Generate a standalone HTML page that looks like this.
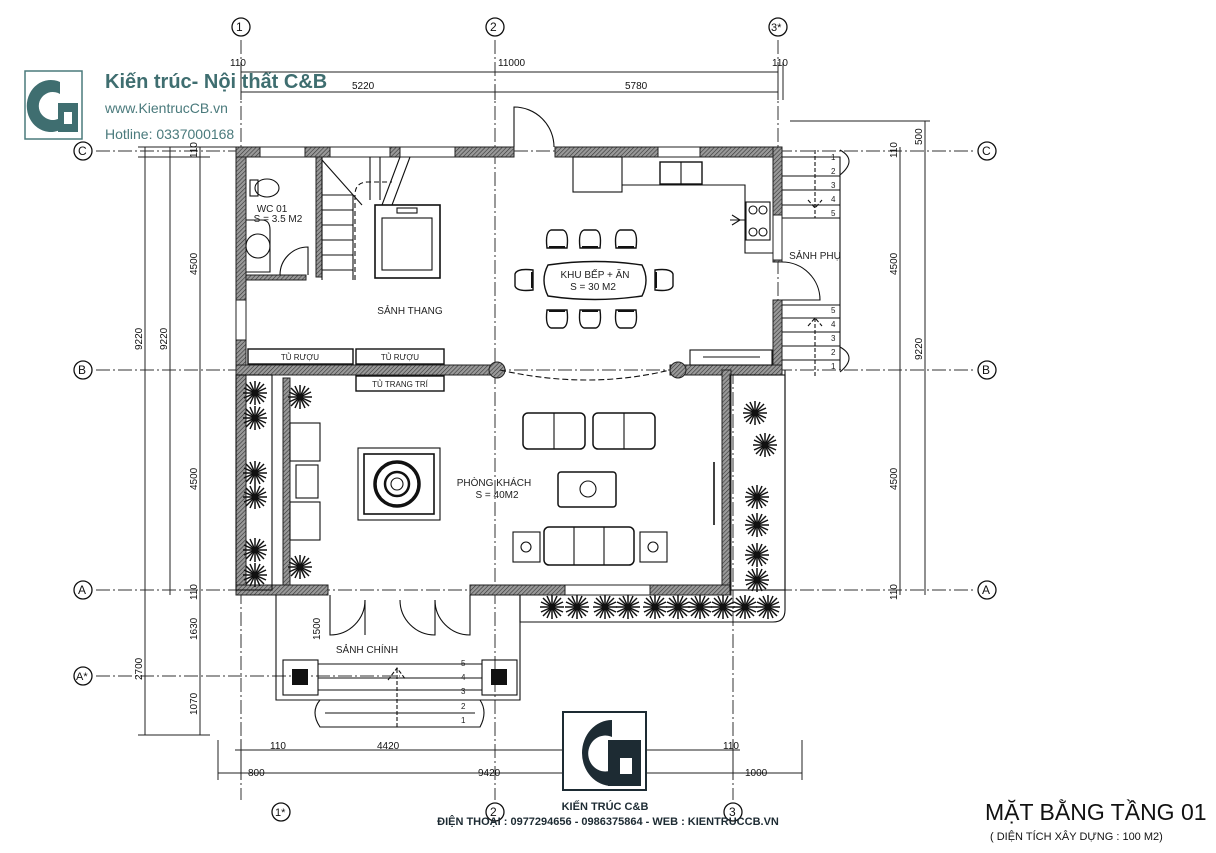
<!DOCTYPE html>
<html><head><meta charset="utf-8"><style>
html,body{margin:0;padding:0;background:#fff;}
svg{display:block;font-family:"Liberation Sans",sans-serif;}
</style></head><body>
<svg width="1216" height="853" viewBox="0 0 1216 853" xmlns="http://www.w3.org/2000/svg">
<defs>
<pattern id="h" width="3" height="3" patternUnits="userSpaceOnUse" patternTransform="rotate(45)">
<rect width="3" height="3" fill="#999"/><line x1="0" y1="0" x2="0" y2="3" stroke="#333" stroke-width="1.2"/></pattern>
<g id="plant"><g stroke="#111" stroke-width="1.5">
<line x1="-12" y1="0" x2="12" y2="0"/><line x1="0" y1="-12" x2="0" y2="12"/><line x1="-9" y1="-9" x2="9" y2="9"/><line x1="-9" y1="9" x2="9" y2="-9"/>
<line x1="-11" y1="-5" x2="11" y2="5"/><line x1="-11" y1="5" x2="11" y2="-5"/><line x1="-5" y1="-11" x2="5" y2="11"/><line x1="5" y1="-11" x2="-5" y2="11"/></g><circle r="3" fill="#111"/></g>
<g id="chair"><path d="M-10,8 Q-12,-8 -6,-10 L6,-10 Q12,-8 10,8 Z" fill="none" stroke="#111" stroke-width="1.4"/><path d="M-8,7 L8,7" stroke="#111" stroke-width="2"/></g>
</defs>
<g fill="none" stroke="#222" stroke-width="1">
<g stroke-dasharray="14,3,2,3" stroke="#333">
<line x1="241" y1="40" x2="241" y2="800"/><line x1="495" y1="40" x2="495" y2="800"/><line x1="778" y1="40" x2="778" y2="370"/><line x1="733" y1="370" x2="733" y2="800"/>
<line x1="96" y1="151" x2="975" y2="151"/><line x1="96" y1="370" x2="975" y2="370"/><line x1="96" y1="590" x2="975" y2="590"/><line x1="96" y1="676" x2="400" y2="676"/>
</g>
<g stroke="#111" stroke-width="1.3">
<circle cx="241" cy="27" r="9"/><circle cx="495" cy="27" r="9"/><circle cx="778" cy="27" r="9"/>
<circle cx="83" cy="151" r="9"/><circle cx="83" cy="370" r="9"/><circle cx="83" cy="590" r="9"/><circle cx="83" cy="676" r="9"/>
<circle cx="987" cy="151" r="9"/><circle cx="987" cy="370" r="9"/><circle cx="987" cy="590" r="9"/>
<circle cx="281" cy="812" r="9"/><circle cx="495" cy="812" r="9"/><circle cx="733" cy="812" r="9"/>
</g>
<line x1="241" y1="72" x2="778" y2="72"/><line x1="241" y1="92" x2="778" y2="92"/>
<line x1="241" y1="62" x2="241" y2="100"/><line x1="495" y1="85" x2="495" y2="100"/><line x1="778" y1="62" x2="778" y2="100"/><line x1="783" y1="62" x2="783" y2="100"/>
<line x1="145" y1="147" x2="145" y2="735"/><line x1="170" y1="147" x2="170" y2="595"/><line x1="200" y1="147" x2="200" y2="735"/>
<line x1="138" y1="147" x2="250" y2="147"/><line x1="138" y1="157" x2="210" y2="157"/><line x1="138" y1="735" x2="210" y2="735"/>
<line x1="900" y1="147" x2="900" y2="595"/><line x1="925" y1="121" x2="925" y2="595"/><line x1="790" y1="121" x2="930" y2="121"/>
<line x1="235" y1="750" x2="740" y2="750"/><line x1="218" y1="773" x2="802" y2="773"/>
<line x1="218" y1="740" x2="218" y2="780"/><line x1="241" y1="740" x2="241" y2="780"/><line x1="802" y1="740" x2="802" y2="780"/><line x1="733" y1="740" x2="733" y2="780"/>
</g>
<g font-size="10" fill="#111">
<text x="230" y="66">110</text><text x="498" y="66">11000</text><text x="772" y="66">110</text>
<text x="352" y="89">5220</text><text x="625" y="89">5780</text>
<text x="270" y="749">110</text><text x="377" y="749">4420</text><text x="723" y="749">110</text>
<text x="248" y="776">800</text><text x="478" y="776">9420</text><text x="745" y="776">1000</text>
<text transform="translate(142,350) rotate(-90)">9220</text><text transform="translate(167,350) rotate(-90)">9220</text>
<text transform="translate(197,275) rotate(-90)">4500</text><text transform="translate(197,490) rotate(-90)">4500</text>
<text transform="translate(197,640) rotate(-90)">1630</text><text transform="translate(197,715) rotate(-90)">1070</text>
<text transform="translate(142,680) rotate(-90)">2700</text><text transform="translate(197,158) rotate(-90)">110</text><text transform="translate(197,600) rotate(-90)">110</text>
<text transform="translate(320,640) rotate(-90)">1500</text>
<text transform="translate(897,275) rotate(-90)">4500</text><text transform="translate(897,490) rotate(-90)">4500</text>
<text transform="translate(922,360) rotate(-90)">9220</text><text transform="translate(922,145) rotate(-90)">500</text>
<text transform="translate(897,158) rotate(-90)">110</text><text transform="translate(897,600) rotate(-90)">110</text>
<text x="236" y="31" font-size="12">1</text><text x="490" y="31" font-size="12">2</text><text x="771" y="31" font-size="11">3*</text>
<text x="78" y="155" font-size="12">C</text><text x="78" y="374" font-size="12">B</text><text x="78" y="594" font-size="12">A</text><text x="76" y="680" font-size="11">A*</text>
<text x="982" y="155" font-size="12">C</text><text x="982" y="374" font-size="12">B</text><text x="982" y="594" font-size="12">A</text>
<text x="275" y="816" font-size="11">1*</text><text x="490" y="816" font-size="12">2</text><text x="729" y="816" font-size="12">3</text>
</g>
<g fill="url(#h)" stroke="#222" stroke-width="1">
<rect x="236" y="147" width="10" height="448"/>
<rect x="236" y="147" width="278" height="10"/><rect x="555" y="147" width="227" height="10"/>
<rect x="773" y="147" width="9" height="115"/><rect x="773" y="300" width="9" height="75"/>
<rect x="236" y="365" width="264" height="10"/><rect x="670" y="365" width="112" height="10"/>
<rect x="722" y="370" width="9" height="225"/>
<rect x="236" y="585" width="92" height="10"/><rect x="470" y="585" width="95" height="10"/><rect x="650" y="585" width="80" height="10"/>
<rect x="246" y="275" width="60" height="5"/><rect x="316" y="157" width="6" height="120"/>
<rect x="283" y="378" width="7" height="207"/>
<circle cx="497" cy="370" r="8"/><circle cx="678" cy="370" r="8"/>
</g>
<g fill="#fff" stroke="#222" stroke-width="1">
<rect x="260" y="147" width="45" height="10"/><rect x="330" y="147" width="60" height="10"/><rect x="400" y="147" width="55" height="10"/><rect x="658" y="147" width="42" height="10"/>
<rect x="236" y="300" width="10" height="40"/><rect x="773" y="215" width="9" height="45"/>
<rect x="565" y="585" width="85" height="10"/>
</g>
<g fill="none" stroke="#111" stroke-width="1.1">
<path d="M514,147 L514,107 A40,40 0 0 1 554,147"/>
<path d="M782,262 A38,38 0 0 1 820,300 L782,300"/>
<path d="M280,275 A28,28 0 0 1 308,247 L308,275"/>
<path d="M500,370 Q588,390 670,370" stroke-dasharray="6,3"/>
<path d="M330,595 L330,635 A35,35 0 0 0 365,600"/><path d="M365,600 L365,635"/><path d="M400,600 A35,35 0 0 0 435,635 L435,600"/><path d="M435,600 A35,35 0 0 0 470,635 L470,595"/>
<path d="M322,157 L322,280 M353,195 L353,280 M322,195 L353,195"/>
<path d="M322,210 L353,210 M322,225 L353,225 M322,240 L353,240 M322,255 L353,255 M322,270 L353,270"/>
<path d="M322,160 L362,205 M400,157 L382,205 M410,157 L392,205 M370,157 L370,200 M380,157 L380,200"/>
<path d="M355,280 L355,195 Q355,182 368,182 L392,182" stroke-dasharray="5,3"/>
<rect x="375" y="205" width="65" height="73" stroke-width="1.6"/><rect x="382" y="218" width="50" height="52"/><rect x="397" y="208" width="20" height="5"/>
<ellipse cx="267" cy="188" rx="12" ry="9"/><rect x="250" y="180" width="8" height="16"/>
<circle cx="258" cy="246" r="12"/><path d="M246,220 L262,220 Q270,220 270,230 L270,272 L246,272"/>
<rect x="248" y="349" width="105" height="15" stroke-width="1.4"/><rect x="356" y="349" width="88" height="15" stroke-width="1.4"/><rect x="356" y="376" width="88" height="15" stroke-width="1.4"/>
<rect x="573" y="157" width="49" height="35"/><path d="M622,185 L745,185 L745,253 L773,253"/>
<rect x="660" y="162" width="42" height="22" stroke-width="1.4"/><line x1="681" y1="162" x2="681" y2="184"/>
<rect x="746" y="202" width="24" height="38"/><circle cx="753" cy="210" r="4"/><circle cx="763" cy="210" r="4"/><circle cx="753" cy="232" r="4"/><circle cx="763" cy="232" r="4"/>
<path d="M740,220 L732,215 M740,220 L732,225 M730,220 L745,220"/>
<rect x="690" y="350" width="82" height="15"/><line x1="703" y1="357" x2="760" y2="357"/>
<path d="M548,265 Q595,258 642,265 Q650,280 642,296 Q595,303 548,296 Q540,280 548,265 Z" stroke-width="1.4"/>
<path d="M782,157 L840,157 L840,370 M782,176 L840,176 M782,190 L840,190 M782,205 L840,205 M782,218 L840,218"/>
<path d="M782,305 L840,305 M782,318 L840,318 M782,332 L840,332 M782,346 L840,346 M782,360 L840,360"/>
<path d="M840,150 Q858,160 840,175 M840,347 Q858,357 840,372"/>
<path d="M815,150 L815,218 M808,200 L815,208 L822,200 M815,318 L815,377 M808,326 L815,318 L822,326" stroke-dasharray="4,2"/>
<rect x="358" y="448" width="82" height="72"/><rect x="364" y="454" width="70" height="60" stroke-width="1.6"/>
<circle cx="397" cy="484" r="22" stroke-width="3.5"/><circle cx="397" cy="484" r="12" stroke-width="2.5"/><circle cx="397" cy="484" r="6"/>
<rect x="290" y="423" width="30" height="38"/><rect x="290" y="502" width="30" height="38"/><rect x="296" y="465" width="22" height="33"/>
<rect x="523" y="413" width="62" height="36" rx="5" stroke-width="1.5"/><rect x="593" y="413" width="62" height="36" rx="5" stroke-width="1.5"/>
<line x1="554" y1="413" x2="554" y2="449"/><line x1="624" y1="413" x2="624" y2="449"/>
<rect x="558" y="472" width="58" height="35" rx="3" stroke-width="1.5"/><circle cx="588" cy="489" r="8"/>
<rect x="544" y="527" width="90" height="38" rx="5" stroke-width="1.5"/><line x1="574" y1="527" x2="574" y2="565"/><line x1="604" y1="527" x2="604" y2="565"/>
<rect x="513" y="532" width="27" height="30"/><rect x="640" y="532" width="27" height="30"/><circle cx="526" cy="547" r="5"/><circle cx="653" cy="547" r="5"/>
<line x1="714" y1="462" x2="714" y2="525" stroke-width="1.6"/>
<rect x="236" y="375" width="36" height="215"/><rect x="730" y="375" width="55" height="215"/>
<path d="M785,370 L785,610 Q785,622 773,622 L520,622 L520,595"/>
<path d="M276,595 L276,700 L520,700 L520,595"/>
<rect x="283" y="660" width="35" height="35"/><rect x="482" y="660" width="35" height="35"/>
<path d="M318,664 L482,664 M318,678 L482,678 M318,690 L482,690"/>
<path d="M320,700 L480,700 Q488,712 480,727 L320,727 Q310,712 320,700 Z"/><path d="M325,713 L475,713"/>
<path d="M397,727 L397,668 M388,680 L397,668 L406,680" stroke-dasharray="4,2"/>
</g>
<g fill="#111"><rect x="292" y="669" width="16" height="16"/><rect x="491" y="669" width="16" height="16"/></g>
<use href="#chair" x="557" y="240"/><use href="#chair" x="590" y="240"/><use href="#chair" x="626" y="240"/>
<use href="#chair" x="557" y="318" transform="rotate(180 557 318)"/><use href="#chair" x="590" y="318" transform="rotate(180 590 318)"/><use href="#chair" x="626" y="318" transform="rotate(180 626 318)"/>
<use href="#chair" x="525" y="280" transform="rotate(-90 525 280)"/><use href="#chair" x="663" y="280" transform="rotate(90 663 280)"/>
<use href="#plant" x="255" y="393"/><use href="#plant" x="255" y="418"/><use href="#plant" x="255" y="473"/><use href="#plant" x="255" y="497"/><use href="#plant" x="255" y="550"/><use href="#plant" x="255" y="575"/>
<use href="#plant" x="300" y="397"/><use href="#plant" x="300" y="567"/>
<use href="#plant" x="755" y="413"/><use href="#plant" x="765" y="445"/><use href="#plant" x="757" y="497"/><use href="#plant" x="757" y="525"/><use href="#plant" x="757" y="555"/><use href="#plant" x="757" y="580"/>
<use href="#plant" x="552" y="607"/><use href="#plant" x="577" y="607"/><use href="#plant" x="605" y="607"/><use href="#plant" x="628" y="607"/><use href="#plant" x="655" y="607"/><use href="#plant" x="678" y="607"/><use href="#plant" x="700" y="607"/><use href="#plant" x="723" y="607"/><use href="#plant" x="745" y="607"/><use href="#plant" x="768" y="607"/>
<g font-size="10" fill="#222" text-anchor="middle">
<text x="272" y="212">WC 01</text><text x="278" y="222">S = 3.5 M2</text>
<text x="410" y="314">SẢNH THANG</text>
<text x="595" y="278">KHU BẾP + ĂN</text><text x="593" y="290">S = 30 M2</text>
<text x="815" y="259">SẢNH  PHỤ</text>
<text x="300" y="360" font-size="8">TỦ RƯỢU</text><text x="400" y="360" font-size="8">TỦ RƯỢU</text><text x="400" y="387" font-size="8">TỦ TRANG TRÍ</text>
<text x="494" y="486">PHÒNG KHÁCH</text><text x="497" y="498">S = 40M2</text>
<text x="367" y="653">SẢNH CHÍNH</text>
</g>
<g font-size="8" fill="#222">
<text x="831" y="160">1</text><text x="831" y="174">2</text><text x="831" y="188">3</text><text x="831" y="202">4</text><text x="831" y="216">5</text>
<text x="831" y="313">5</text><text x="831" y="327">4</text><text x="831" y="341">3</text><text x="831" y="355">2</text><text x="831" y="369">1</text>
<text x="461" y="666">5</text><text x="461" y="680">4</text><text x="461" y="694">3</text><text x="461" y="709">2</text><text x="461" y="723">1</text>
</g>
<rect x="25" y="71" width="57" height="68" fill="none" stroke="#4a7a7c" stroke-width="1.5"/>
<path d="M60,82 A24,26 0 1 0 60,130 L60,118 A14,14 0 1 1 60,94 Z" fill="#3f6e70"/>
<rect x="58" y="103" width="20" height="29" fill="#3f6e70"/><rect x="64" y="112" width="8" height="12" fill="#fff"/>
<text x="105" y="88" font-size="20" font-weight="bold" fill="#3f6e70">Kiến trúc- Nội thất C&amp;B</text>
<text x="105" y="113" font-size="14" fill="#4a7a7c">www.KientrucCB.vn</text>
<text x="105" y="139" font-size="14" fill="#4a7a7c">Hotline: 0337000168</text>
<rect x="563" y="712" width="83" height="78" fill="#fff" stroke="#1d2b33" stroke-width="2"/>
<path d="M612,720 A30,33 0 1 0 612,786 L612,770 A17,18 0 1 1 612,737 Z" fill="#1d2b33"/>
<rect x="608" y="740" width="33" height="46" fill="#1d2b33"/><rect x="620" y="758" width="12" height="16" fill="#fff"/>
<text x="605" y="810" font-size="11" font-weight="bold" fill="#1d2b33" text-anchor="middle">KIẾN TRÚC C&amp;B</text>
<text x="608" y="825" font-size="11" font-weight="bold" fill="#1d2b33" text-anchor="middle">ĐIỆN THOẠI : 0977294656 - 0986375864 - WEB : KIENTRUCCB.VN</text>
<text x="985" y="820" font-size="23" fill="#111">MẶT BẰNG TẦNG 01</text>
<text x="990" y="840" font-size="11" fill="#111">( DIỆN TÍCH XÂY DỰNG : 100 M2)</text>
</svg>
</body></html>
